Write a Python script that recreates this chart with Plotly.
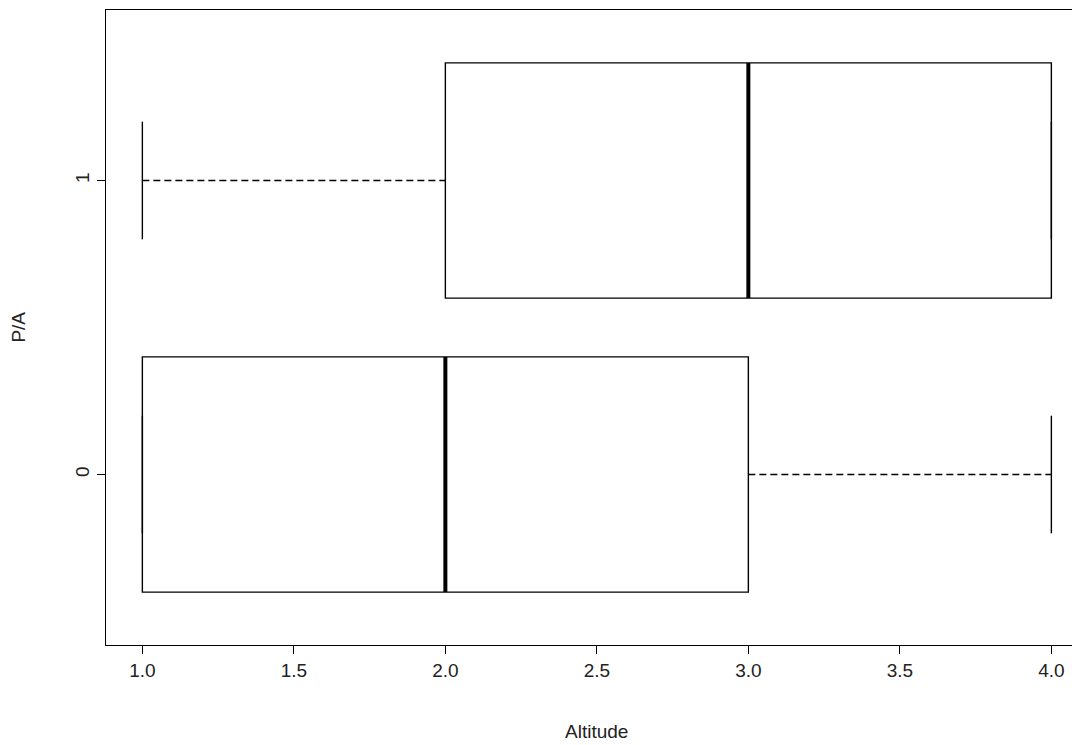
import plotly.graph_objects as go

# Five-number summaries of Altitude for each P/A group
groups = ["0", "1"]
minimum = [1.0, 1.0]
lower_q = [1.0, 2.0]
median = [2.0, 3.0]
upper_q = [3.0, 4.0]
maximum = [4.0, 4.0]

x_ticks = [1.0, 1.5, 2.0, 2.5, 3.0, 3.5, 4.0]

BOX_HALF = 0.4      # half box height in category units
CAP_HALF = 0.2      # half staple length
FONT = "Liberation Sans, Arial, sans-serif"

shapes = []
for i, g in enumerate(groups):
    pos = i + 1
    line = dict(color="black", width=1.4)
    # box
    shapes.append(dict(type="rect", xref="x", yref="y",
                       x0=lower_q[i], x1=upper_q[i],
                       y0=pos - BOX_HALF, y1=pos + BOX_HALF,
                       line=line, fillcolor="white", layer="above"))
    # median
    shapes.append(dict(type="line", xref="x", yref="y",
                       x0=median[i], x1=median[i],
                       y0=pos - BOX_HALF, y1=pos + BOX_HALF,
                       line=dict(color="black", width=4), layer="above"))
    # whiskers (dashed)
    for a, b in ((minimum[i], lower_q[i]), (upper_q[i], maximum[i])):
        if b > a:
            shapes.append(dict(type="line", xref="x", yref="y",
                               x0=a, x1=b, y0=pos, y1=pos,
                               line=dict(color="black", width=1.3, dash="7px,4px"),
                               layer="above"))
    # staples
    for v in (minimum[i], maximum[i]):
        shapes.append(dict(type="line", xref="x", yref="y",
                           x0=v, x1=v, y0=pos - CAP_HALF, y1=pos + CAP_HALF,
                           line=line, layer="above"))

fig = go.Figure()
# invisible trace so the axes are set up
fig.add_trace(go.Scatter(x=[min(minimum), max(maximum)], y=[1, 2],
                         mode="markers", marker=dict(opacity=0),
                         hoverinfo="skip", showlegend=False))

span = max(maximum) - min(minimum)
x_lo = min(minimum) - 0.04 * span
fig.update_layout(
    width=1072, height=745,
    margin=dict(l=106, r=0, t=10, b=100),
    plot_bgcolor="white", paper_bgcolor="white",
    font=dict(family=FONT, size=19, color="#222"),
    shapes=shapes,
    xaxis=dict(range=[x_lo, x_lo + 966 / 303], tickvals=x_ticks,
               ticktext=[f"{v:.1f}" for v in x_ticks],
               showgrid=False, zeroline=False, showline=True, mirror=True,
               linecolor="black", linewidth=1, ticks="outside", ticklen=8,
               tickcolor="black"),
    yaxis=dict(range=[0.42, 2.58], tickvals=[1, 2], ticktext=groups,
               tickangle=-90, showgrid=False, zeroline=False, showline=True,
               mirror=False, linecolor="black", linewidth=1, ticks="outside",
               ticklen=8, tickcolor="black"),
    annotations=[
        dict(text="Altitude", xref="x", yref="paper", x=2.5, y=-0.137,
             xanchor="center", yanchor="middle", showarrow=False,
             font=dict(family=FONT, size=19, color="#222")),
        dict(text="P/A", xref="paper", yref="y", x=-0.091, y=1.5,
             xanchor="center", yanchor="middle", textangle=-90, showarrow=False,
             font=dict(family=FONT, size=19, color="#222")),
    ],
)

fig.write_html("out.html")
